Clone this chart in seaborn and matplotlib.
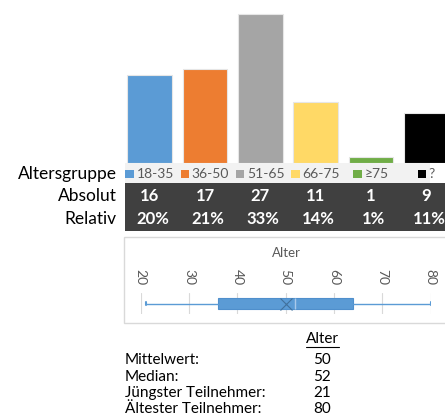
import matplotlib
matplotlib.use("Agg")
import matplotlib.pyplot as plt
import matplotlib.transforms as mtransforms
from matplotlib.patches import Rectangle
from matplotlib.lines import Line2D
from matplotlib.offsetbox import DrawingArea, TextArea, HPacker, AnnotationBbox
import seaborn as sns
import pandas as pd

# Age groups of the participants
age_groups = ["18-35", "36-50", "51-65", "66-75", "≥75", "?"]
counts = [16, 17, 27, 11, 1, 9]
shares = ["20%", "21%", "33%", "14%", "1%", "11%"]
group_colors = ["#5b9bd5", "#ed7d31", "#a5a5a5", "#ffd966", "#70ad47", "#000000"]

# Age distribution (box plot)
age_min = 21
age_q1 = 36
age_median = 52
age_mean = 50
age_q3 = 64
age_max = 80
age_ticks = [20, 30, 40, 50, 60, 70, 80]

summary_labels = ["Mittelwert:", "Median:", "Jüngster Teilnehmer:", "Ältester Teilnehmer:"]
summary_values = [age_mean, age_median, age_min, age_max]

sns.set_theme(style="white")
plt.rcParams["font.family"] = ["Lato", "DejaVu Sans"]

W, H = 445, 420
fig = plt.figure(figsize=(W / 100, H / 100), dpi=100)
fig.patch.set_facecolor("white")


def frame(x0, y0, x1, y1):
    """Axes rectangle from pixel edges measured from the top-left corner."""
    return [x0 / W, 1 - y1 / H, (x1 - x0) / W, (y1 - y0) / H]


def fy(y):
    return 1 - y / H


# --- background panels (drawn beneath the axes) -------------------------------
fig.patches.append(Rectangle((125 / W, fy(183)), (430 - 125) / W, 20 / H,
                             transform=fig.transFigure, facecolor="#f2f2f2",
                             edgecolor="none", zorder=-5))
fig.patches.append(Rectangle((125 / W, fy(231)), (W - 125) / W, 48 / H,
                             transform=fig.transFigure, facecolor="#404040",
                             edgecolor="none", zorder=-5))
fig.patches.append(Rectangle((124 / W, fy(323)), (W + 5 - 124) / W, 86 / H,
                             transform=fig.transFigure, facecolor="white",
                             edgecolor="#d9d9d9", linewidth=1, zorder=-5))

# --- bar chart -------------------------------------------------------------
ax = fig.add_axes(frame(122, 0, 454, 163))
ax.set_facecolor("none")
df = pd.DataFrame({"Altersgruppe": age_groups, "Anzahl": counts})
sns.barplot(data=df, x="Altersgruppe", y="Anzahl", hue="Altersgruppe",
            palette=group_colors, saturation=1, width=0.81, legend=False, ax=ax,
            edgecolor="#e6e6e6", linewidth=0.8)
ax.set_xlim(-0.5, 5.5)
ax.set_ylim(0, 29.5)
ax.axis("off")

# --- data table under the bars ------------------------------------------------
trans = mtransforms.blended_transform_factory(ax.transData, fig.transFigure)

for i, (g, c) in enumerate(zip(age_groups, group_colors)):
    da = DrawingArea(6, 6, 0, 0)
    da.add_artist(Rectangle((0, 0), 6, 6, facecolor=c, edgecolor="none"))
    ta = TextArea(g, textprops=dict(fontsize=10, color="#595959"))
    pack = HPacker(children=[da, ta], align="center", pad=0, sep=2)
    ab = AnnotationBbox(pack, (i, fy(174)), xycoords=trans, frameon=False,
                        box_alignment=(0.5, 0.5), pad=0, annotation_clip=False)
    ax.add_artist(ab)

for i, (n, s) in enumerate(zip(counts, shares)):
    ax.text(i, fy(196), str(n), transform=trans, ha="center", va="center",
            fontsize=12, fontweight="bold", color="white", clip_on=False)
    ax.text(i + 0.05, fy(219), s, transform=trans, ha="center", va="center",
            fontsize=12, fontweight="bold", color="white", clip_on=False)

for label, y in [("Altersgruppe", 174), ("Absolut", 196), ("Relativ", 219)]:
    fig.text(117 / W, fy(y), label, ha="right", va="center", fontsize=12.5,
             color="black")

# --- box plot panel ---------------------------------------------------------
fig.text(286 / W, fy(253), "Alter", ha="center", va="center", fontsize=9.5,
         color="#595959")

bax = fig.add_axes(frame(140.7, 293, 430.7, 314))
bax.set_facecolor("none")
stats = [dict(med=age_median, q1=age_q1, q3=age_q3, whislo=age_min,
              whishi=age_max, mean=age_mean, fliers=[])]
bax.bxp(stats, positions=[0], widths=0.5, orientation="horizontal",
        patch_artist=True, showmeans=True, showcaps=True, capwidths=0.12,
        boxprops=dict(facecolor="#5b9bd5", edgecolor="#4f8fcc", linewidth=0.8),
        whiskerprops=dict(color="#5b9bd5", linewidth=1),
        capprops=dict(color="#5b9bd5", linewidth=1.5),
        medianprops=dict(color="#a9c9ea", linewidth=1),
        meanprops=dict(marker="x", markeredgecolor="#41719c",
                       markersize=8, markeredgewidth=0.8))
bax.set_xlim(20, 80)
bax.set_ylim(-0.5, 0.5)
bax.set_yticks([])
bax.set_xticks(age_ticks)
bax.xaxis.tick_top()
bax.tick_params(axis="x", length=0, pad=6, labelsize=10, labelcolor="#595959",
                labelrotation=-90)
bax.grid(axis="x", color="#d9d9d9", linewidth=0.8)
bax.set_axisbelow(True)
for sp in bax.spines.values():
    sp.set_visible(False)

# --- summary statistics -----------------------------------------------------
head = fig.text(322 / W, fy(339), "Alter", ha="center", va="center",
                fontsize=11, color="black")
for label, value, y in zip(summary_labels, summary_values, [360, 377, 393, 409]):
    fig.text(125 / W, fy(y), label, ha="left", va="center", fontsize=11,
             color="black")
    fig.text(322 / W, fy(y), str(value), ha="center", va="center",
             fontsize=11, color="black")

fig.canvas.draw()
bb = head.get_window_extent()
uy = fy(347)
fig.lines.append(Line2D([bb.x0 / W, bb.x1 / W], [uy, uy],
                        transform=fig.transFigure, color="black", linewidth=0.8))

fig.savefig("out.png", dpi=100, facecolor="white")
